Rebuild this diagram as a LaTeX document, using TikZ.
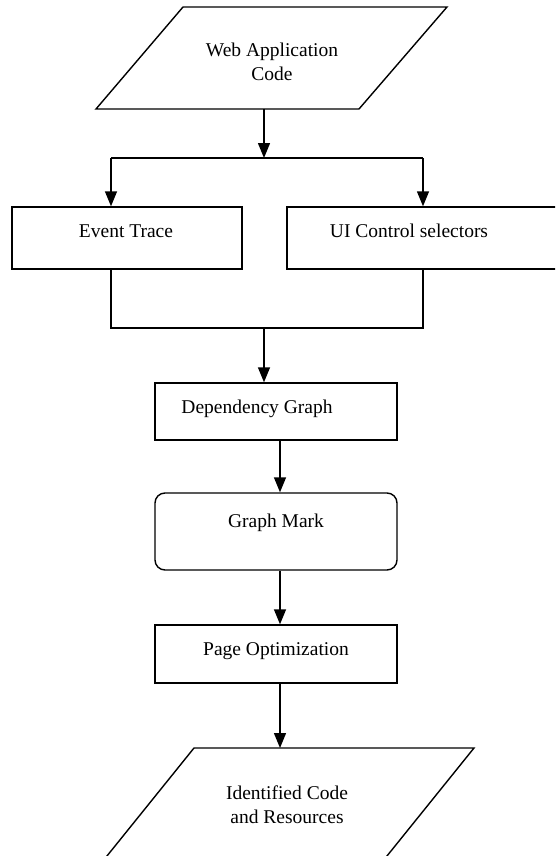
\documentclass[tikz,border=0pt]{standalone}
\usepackage{fontspec}
\setmainfont{Liberation Serif}
\usetikzlibrary{arrows.meta}
\begin{document}
\begin{tikzpicture}[x=1pt,y=-1pt,
  line width=1.4pt,
  lbl/.style={anchor=base, inner sep=0pt, font=\fontsize{19.5}{24}\selectfont},
  box/.style={draw, inner sep=0pt, line width=1.4pt},
  arr/.style={-{Triangle[width=12pt,length=15pt]}, line width=1.4pt},
  conn/.style={line width=1.4pt}]
\useasboundingbox (0,0) rectangle (555,856);
\clip (0,0) rectangle (555,856);

% top parallelogram
\draw[line width=1.4pt] (183,7) -- (447,7) -- (359,109) -- (96,109) -- cycle;
\coordinate (wacb) at (264,109);
\node[lbl] (wac1) at (272,57) {Web Application};
\node[lbl] (wac2) at (272,81) {Code};

% split
\coordinate (split) at (264,158);
\coordinate (sl) at (111,158);
\coordinate (sr) at (423,158);

% boxes
\node[box, minimum width=230pt, minimum height=62pt] (et) at (127,238) {};
\node[lbl] (ett) at (126,237) {Event Trace};
\node[box, minimum width=283pt, minimum height=62pt] (ui) at (428.5,238) {};
\node[lbl] (uit) at (409,237) {UI Control selectors};

\draw[arr] (wacb) -- (split);
\draw[conn] (sl) -- (sr);
\draw[arr] (sl) -- (sl |- et.north);
\draw[arr] (sr) -- (sr |- ui.north);

% merge
\coordinate (ml) at (111,328);
\coordinate (mr) at (423,328);
\coordinate (mm) at (264,328);
\draw[conn] (ml |- et.south) -- (ml) -- (mr) -- (mr |- ui.south);

\node[box, minimum width=242pt, minimum height=57pt] (dg) at (276,411.5) {};
\node[lbl] (dgt) at (257,413) {Dependency Graph};
\draw[arr] (mm) -- (mm |- dg.north);

\node[box, rounded corners=10pt, minimum width=242pt, minimum height=77pt] (gm) at (276,531.5) {};
\node[lbl] (gmt) at (276,527) {Graph Mark};
\coordinate (col) at (280,0);
\draw[arr] (col |- dg.south) -- (col |- gm.north);

\node[box, minimum width=242pt, minimum height=58pt] (po) at (276,654) {};
\node[lbl] (pot) at (276,655) {Page Optimization};
\draw[arr] (col |- gm.south) -- (col |- po.north);

% bottom parallelogram
\coordinate (icrt) at (280,748);
\draw[line width=1.4pt] (194,748) -- (474,748) -- (366,882) -- (86,882) -- cycle;
\node[lbl] (ic1) at (287,799) {Identified Code};
\node[lbl] (ic2) at (287,823) {and Resources};
\draw[arr] (col |- po.south) -- (icrt);
\end{tikzpicture}
\end{document}
